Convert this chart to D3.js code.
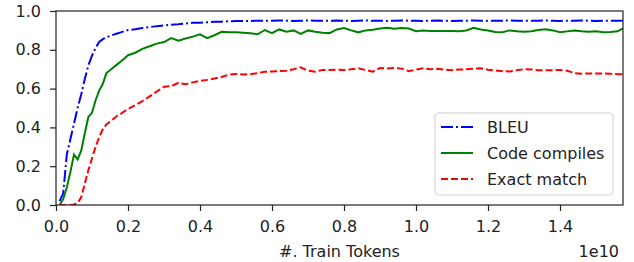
<!DOCTYPE html>
<html>
<head>
<meta charset="utf-8">
<script src="https://cdn.jsdelivr.net/npm/d3@7"></script>
<style>
  body { margin: 0; background: #fff; }
  svg { display: block; font-family: "DejaVu Sans", sans-serif; }
</style>
</head>
<body>
<svg id="chart" width="634" height="262"></svg>
<script>
// train tokens, in units of 1e10
let tokens = [0.01, 0.02, 0.03, 0.04, 0.05, 0.06, 0.07, 0.08, 0.09, 0.10,
  0.11, 0.12, 0.13, 0.14, 0.15, 0.16, 0.17, 0.18, 0.19, 0.20,
  0.22, 0.24, 0.26, 0.28, 0.30, 0.32, 0.34, 0.36, 0.38, 0.40,
  0.42, 0.44, 0.46, 0.48, 0.50, 0.52, 0.54, 0.56, 0.58, 0.60,
  0.62, 0.64, 0.66, 0.68, 0.70, 0.72, 0.74, 0.76, 0.78, 0.80,
  0.82, 0.84, 0.86, 0.88, 0.90, 0.92, 0.94, 0.96, 0.98, 1.00,
  1.02, 1.04, 1.06, 1.08, 1.10, 1.12, 1.14, 1.16, 1.18, 1.20,
  1.22, 1.24, 1.26, 1.28, 1.30, 1.32, 1.34, 1.36, 1.38, 1.40,
  1.42, 1.44, 1.46, 1.48, 1.50, 1.52, 1.54, 1.56, 1.575];

let bleu = [0.02, 0.06, 0.26, 0.34, 0.42, 0.50, 0.57, 0.65, 0.72, 0.77,
  0.81, 0.84, 0.855, 0.864, 0.872, 0.878, 0.884, 0.89, 0.896, 0.902,
  0.906, 0.912, 0.917, 0.922, 0.926, 0.929, 0.932, 0.936, 0.939, 0.94,
  0.942, 0.944, 0.945, 0.947, 0.948, 0.949, 0.949, 0.95, 0.949, 0.95,
  0.951, 0.95, 0.949, 0.95, 0.951, 0.95, 0.95, 0.949, 0.951, 0.95,
  0.949, 0.95, 0.951, 0.95, 0.95, 0.949, 0.95, 0.951, 0.95, 0.95,
  0.949, 0.95, 0.951, 0.95, 0.949, 0.95, 0.95, 0.951, 0.95, 0.949,
  0.95, 0.95, 0.951, 0.95, 0.949, 0.95, 0.95, 0.951, 0.95, 0.949,
  0.95, 0.95, 0.951, 0.95, 0.949, 0.95, 0.95, 0.95, 0.95];

let compiles = [0.0, 0.03, 0.09, 0.17, 0.26, 0.235, 0.28, 0.37, 0.455, 0.475,
  0.54, 0.59, 0.625, 0.68, 0.695, 0.71, 0.725, 0.74, 0.755, 0.772,
  0.785, 0.805, 0.818, 0.832, 0.84, 0.86, 0.847, 0.858, 0.868, 0.88,
  0.86, 0.875, 0.893, 0.89, 0.89, 0.888, 0.885, 0.88, 0.902, 0.886,
  0.905, 0.893, 0.9, 0.882, 0.9, 0.893, 0.888, 0.886, 0.905, 0.912,
  0.9, 0.89, 0.9, 0.903, 0.91, 0.913, 0.908, 0.912, 0.91, 0.896,
  0.9, 0.897, 0.897, 0.897, 0.897, 0.896, 0.9, 0.913, 0.905, 0.9,
  0.892, 0.89, 0.9, 0.896, 0.893, 0.896, 0.902, 0.906, 0.9, 0.89,
  0.895, 0.9, 0.896, 0.893, 0.895, 0.89, 0.892, 0.895, 0.91];

let exact = [0, 0, 0, 0, 0.003, 0.01, 0.04, 0.11, 0.18, 0.24,
  0.30, 0.35, 0.39, 0.415, 0.43, 0.445, 0.46, 0.47, 0.483, 0.495,
  0.515, 0.535, 0.56, 0.585, 0.61, 0.612, 0.63, 0.622, 0.632, 0.64,
  0.645, 0.652, 0.66, 0.672, 0.675, 0.673, 0.674, 0.68, 0.687, 0.688,
  0.69, 0.692, 0.70, 0.71, 0.692, 0.687, 0.696, 0.696, 0.698, 0.696,
  0.70, 0.705, 0.696, 0.687, 0.706, 0.704, 0.706, 0.703, 0.69, 0.698,
  0.705, 0.70, 0.702, 0.698, 0.695, 0.698, 0.70, 0.703, 0.705, 0.697,
  0.693, 0.69, 0.688, 0.695, 0.70, 0.698, 0.694, 0.694, 0.695, 0.696,
  0.692, 0.68, 0.677, 0.678, 0.678, 0.678, 0.676, 0.674, 0.674];

let xTicks = [0.0, 0.2, 0.4, 0.6, 0.8, 1.0, 1.2, 1.4];
let yTicks = [0.0, 0.2, 0.4, 0.6, 0.8, 1.0];

let series = [
  {name: "BLEU", values: bleu, color: "#0000ff", dash: "12,3,2,3"},
  {name: "Code compiles", values: compiles, color: "#008000", dash: null},
  {name: "Exact match", values: exact, color: "#ff0000", dash: "7,3"}
];

let fontSize = "16px";
let svg = d3.select("#chart");
let plotLeft = 56, plotRight = 623, plotTop = 11, plotBottom = 205;

let x = d3.scaleLinear().domain([0, 1.575]).range([plotLeft, plotRight]);
let y = d3.scaleLinear().domain([0, 1]).range([plotBottom, plotTop]);

// clip lines to the axes
svg.append("clipPath").attr("id", "clip")
  .append("rect")
  .attr("x", plotLeft).attr("y", plotTop)
  .attr("width", plotRight - plotLeft).attr("height", plotBottom - plotTop);

let line = d3.line()
  .x((d, i) => x(tokens[i]))
  .y(d => y(d));

series.forEach(s => {
  svg.append("path")
    .attr("d", line(s.values))
    .attr("clip-path", "url(#clip)")
    .style("fill", "none")
    .style("stroke", s.color)
    .style("stroke-width", 2)
    .style("stroke-dasharray", s.dash);
});

// axes
let xAxis = svg.append("g")
  .attr("transform", "translate(0," + plotBottom + ")")
  .call(d3.axisBottom(x).tickValues(xTicks).tickFormat(d3.format(".1f")).tickSize(6).tickPadding(10));
let yAxis = svg.append("g")
  .attr("transform", "translate(" + plotLeft + ",0)")
  .call(d3.axisLeft(y).tickValues(yTicks).tickFormat(d3.format(".1f")).tickSize(6).tickPadding(9));

[xAxis, yAxis].forEach(g => {
  g.select(".domain").remove();
  g.selectAll("line").style("stroke", "#222").style("stroke-width", 1.2);
  g.selectAll("text")
    .style("font-family", "DejaVu Sans")
    .style("font-size", fontSize)
    .style("fill", "#222");
});

// frame
svg.append("rect")
  .attr("x", plotLeft).attr("y", plotTop)
  .attr("width", plotRight - plotLeft).attr("height", plotBottom - plotTop)
  .style("fill", "none")
  .style("stroke", "#222")
  .style("stroke-width", 1.2);

// axis labels
svg.append("text")
  .attr("x", (plotLeft + plotRight) / 2)
  .attr("y", 256.5)
  .text("#. Train Tokens")
  .style("text-anchor", "middle")
  .style("font-size", fontSize)
  .style("fill", "#222");
svg.append("text")
  .attr("x", 619)
  .attr("y", 256.5)
  .text("1e10")
  .style("text-anchor", "end")
  .style("font-size", fontSize)
  .style("fill", "#222");

// legend
let legend = svg.append("g");
legend.append("rect")
  .attr("x", 435).attr("y", 113)
  .attr("width", 178).attr("height", 82)
  .attr("rx", 3)
  .style("fill", "#fff")
  .style("fill-opacity", 0.8)
  .style("stroke", "#d0d0d0");

series.forEach((s, i) => {
  let ly = 127 + i * 26;
  legend.append("line")
    .attr("x1", 441).attr("x2", 473)
    .attr("y1", ly).attr("y2", ly)
    .style("stroke", s.color)
    .style("stroke-width", 2)
    .style("stroke-dasharray", s.dash);
  legend.append("text")
    .attr("x", 487)
    .attr("y", ly)
    .attr("dy", "0.35em")
    .text(s.name)
    .style("font-size", fontSize)
    .style("fill", "#222");
});
</script>
</body>
</html>
